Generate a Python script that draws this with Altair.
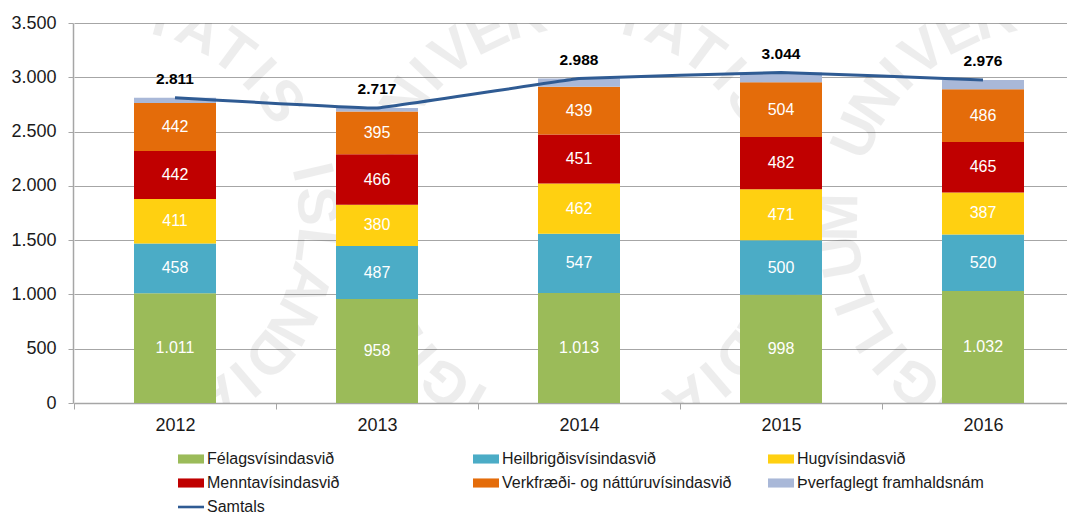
import math
import altair as alt
import pandas as pd

years = ["2012", "2013", "2014", "2015", "2016"]
series = ["Félagsvísindasvið", "Heilbrigðisvísindasvið", "Hugvísindasvið",
          "Menntavísindasvið", "Verkfræði- og náttúruvísindasvið", "Þverfaglegt framhaldsnám"]
felag = [1011, 958, 1013, 998, 1032]
heil = [458, 487, 547, 500, 520]
hug = [411, 380, 462, 471, 387]
mennta = [442, 466, 451, 482, 465]
verk = [442, 395, 439, 504, 486]
thver = [47, 31, 76, 89, 86]
samtals = [2811, 2717, 2988, 3044, 2976]
colors = ["#9bbb59", "#4bacc6", "#ffd011", "#c00000", "#e46c0a", "#a9b8d8", "#2f5b93"]
shapes = ["M-1,-0.35H1V0.35H-1Z"] * 6 + ["M-1,-0.1H1V0.1H-1Z"]
seal_text = "SIGILLUM UNIVERSITATIS ISLANDIAE"


def dot(v):
    return f"{v:,}".replace(",", ".")


rows = []
for s_i, (name, vals) in enumerate(zip(series, [felag, heil, hug, mennta, verk, thver])):
    for y_i, y in enumerate(years):
        base = sum(col[y_i] for col in [felag, heil, hug, mennta, verk, thver][:s_i])
        rows.append(dict(year=y, series=name, order=s_i, v=vals[y_i], mid=base + vals[y_i] / 2,
                         label=dot(vals[y_i])))
bars_df = pd.DataFrame(rows)
totals_df = pd.DataFrame(dict(year=years, v=samtals, label=[dot(v) for v in samtals]))
legend_df = pd.DataFrame(dict(series=series + ["Samtals"]))

wm = []
adv = {"I": 0.72, " ": 1.1}
total = sum(adv.get(c, 1.0) for c in seal_text)
for cx in [35, 505, 975]:
    a = -165.0
    step = 330.0 / total
    for c in seal_text:
        w = adv.get(c, 1.0) * step
        th = a + w / 2
        a += w
        if c == " ":
            continue
        rad = math.radians(th)
        px = cx + 208 * math.sin(rad)
        py = 197 - 208 * math.cos(rad)
        if 0 <= px <= 994 and -8 <= py <= 385:
            wm.append(dict(ch=c, px=px, py=py, ang=(th + 360) % 360))
wm_df = pd.DataFrame(wm)

FONT = "Liberation Sans"
band = alt.Scale(domain=years, range=[1, 1011], paddingInner=0, paddingOuter=0)
x_enc = alt.X("year:N", scale=band, title=None,
              axis=alt.Axis(labelAngle=0, labelFontSize=18, labelColor="#1a1a1a", labelPadding=7,
                            tickBand="extent", tickSize=6, tickColor="#a6a6a6", domainColor="#a6a6a6",
                            domainWidth=1.5, grid=False, labelFont=FONT))
y_scale = alt.Scale(domain=[0, 3500])
y_axis = alt.Axis(values=list(range(0, 3501, 500)), labelExpr="replace(format(datum.value, ','), ',', '.')",
                  labelFontSize=18, labelColor="#1a1a1a", labelFont=FONT, labelPadding=12, tickSize=5,
                  tickColor="#a6a6a6", domainColor="#a6a6a6", domainWidth=1.5, grid=True, gridColor="#a6a6a6",
                  gridWidth=1.2, title=None)
color_scale = alt.Scale(domain=series + ["Samtals"], range=colors)
legend = alt.Legend(orient="none", legendX=105, legendY=423, columns=3, direction="horizontal", title=None,
                    symbolSize=676, labelOffset=3, labelFontSize=16, labelFont=FONT, labelColor="#1a1a1a",
                    labelLimit=320, gridAlign="all", columnPadding=36, rowPadding=3, symbolStrokeWidth=0)

bars = alt.Chart(bars_df).mark_bar(size=82).encode(
    x=x_enc,
    y=alt.Y("v:Q", scale=y_scale, axis=y_axis, stack="zero"),
    color=alt.Color("series:N", scale=color_scale, legend=legend),
    order=alt.Order("order:Q"),
)
labels = alt.Chart(bars_df[bars_df.order < 5]).mark_text(
    color="white", fontSize=16, font=FONT
).encode(x=alt.X("year:N", scale=band), y=alt.Y("mid:Q", scale=y_scale), text="label:N")
line = alt.Chart(totals_df).mark_line(color=colors[6], strokeWidth=3, interpolate="cardinal", tension=0.85).encode(
    x=alt.X("year:N", scale=band), y=alt.Y("v:Q", scale=y_scale))
tot_text = alt.Chart(totals_df).mark_text(
    color="black", fontSize=15.5, fontWeight="bold", font=FONT, dy=-19
).encode(x=alt.X("year:N", scale=band), y=alt.Y("v:Q", scale=y_scale), text="label:N")
legend_pts = alt.Chart(legend_df).transform_filter("false").mark_point(filled=True, opacity=1).encode(
    color=alt.Color("series:N", scale=color_scale, legend=legend),
    shape=alt.Shape("series:N", scale=alt.Scale(domain=series + ["Samtals"], range=shapes), legend=legend),
)
main = alt.layer(bars, labels, line, tot_text, legend_pts)

water = alt.Chart(wm_df).mark_text(
    color="black", opacity=0.065, fontSize=58, fontWeight="bold", font=FONT, clip=True, baseline="middle"
).encode(
    x=alt.X("px:Q", scale=alt.Scale(domain=[0, 994]), axis=None),
    y=alt.Y("py:Q", scale=alt.Scale(domain=[380, 0]), axis=None),
    text="ch:N",
    angle=alt.Angle("ang:Q", scale=None),
)

chart = (
    alt.layer(water, main)
    .resolve_scale(x="independent", y="independent")
    .properties(width=994, height=380, autosize=alt.AutoSizeParams(type="none"),
                padding={"left": 65, "top": 15, "right": 0, "bottom": 111})
    .configure_view(fill="#fcfcfc", stroke=None)
)
chart.save("out.html", embed_options={"renderer": "svg", "actions": False})
